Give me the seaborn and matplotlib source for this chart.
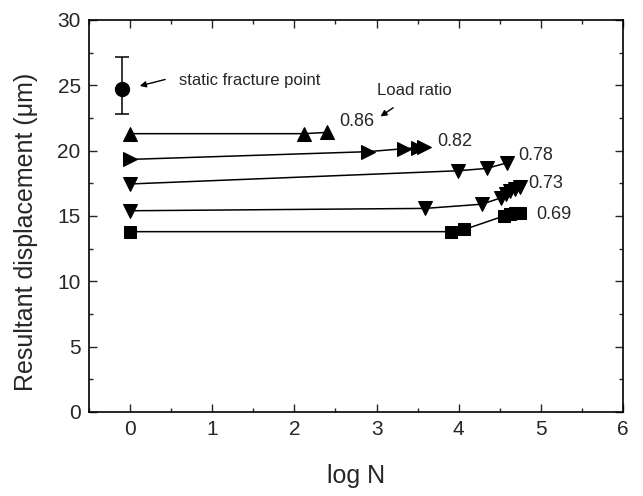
import numpy as np
import pandas as pd
import matplotlib
matplotlib.use("Agg")
import matplotlib.pyplot as plt
import seaborn as sns
from matplotlib.ticker import MultipleLocator

sns.set_style("ticks")
plt.rcParams["font.family"] = ["Liberation Sans", "DejaVu Sans"]

# ----------------------------------------------------------
# DATOS
# ----------------------------------------------------------

logn_086 = [0.0, 2.12, 2.40]
disp_086 = [21.3, 21.3, 21.4]

logn_082 = [0.0, 2.89, 3.33, 3.50, 3.58]
disp_082 = [19.33, 19.92, 20.15, 20.22, 20.28]

logn_078 = [0.0, 3.99, 4.34, 4.59]
disp_078 = [17.45, 18.46, 18.64, 19.07]

logn_073 = [0.0, 3.59, 4.28, 4.52, 4.57, 4.62, 4.68, 4.74]
disp_073 = [15.4, 15.58, 15.9, 16.4, 16.7, 16.9, 17.05, 17.2]

logn_069 = [0.0, 3.90, 4.07, 4.55, 4.62, 4.68, 4.75]
disp_069 = [13.8, 13.8, 13.97, 15.0, 15.15, 15.2, 15.25]

ratios = ["0.86", "0.82", "0.78", "0.73", "0.69"]
markers = ["^", ">", "v", "v", "s"]

static_x = -0.10
static_y = 24.7
static_err_lo = 1.9
static_err_hi = 2.5

series = [
    (logn_086, disp_086),
    (logn_082, disp_082),
    (logn_078, disp_078),
    (logn_073, disp_073),
    (logn_069, disp_069),
]

# posicion de las etiquetas de carga
label_pos = [(2.55, 22.2), (3.74, 20.7), (4.73, 19.6), (4.85, 17.5), (4.94, 15.1)]

# ----------------------------------------------------------
# FIGURA
# ----------------------------------------------------------

fig = plt.figure(figsize=(6.43, 4.96), dpi=100)
ax = fig.add_axes([0.1384, 0.1694, 0.8306, 0.7903])

for (x, y), r, m in zip(series, ratios, markers):
    df = pd.DataFrame({"logN": x, "disp": y})
    sns.lineplot(
        data=df, x="logN", y="disp", ax=ax,
        color="black", linewidth=1.1,
        marker=m, markersize=10.5 if m != "s" else 9,
        markeredgecolor="black", markerfacecolor="black",
        sort=False, estimator=None
    )

for (tx, ty), r in zip(label_pos, ratios):
    ax.text(tx, ty, r, fontsize=13, va="center", ha="left")

# punto de fractura estatica
ax.errorbar(
    static_x, static_y,
    yerr=[[static_err_lo], [static_err_hi]],
    fmt="o", color="black", markersize=10,
    capsize=4.7, elinewidth=1.1, capthick=1.1
)

ax.annotate(
    "", xy=(0.085, 24.9), xytext=(0.46, 25.5),
    arrowprops=dict(arrowstyle="-|>", color="black", lw=1.0,
                    mutation_scale=9)
)
ax.text(0.60, 25.4, "static fracture point", fontsize=12,
        va="center", ha="left")

ax.annotate(
    "", xy=(3.02, 22.5), xytext=(3.23, 23.4),
    arrowprops=dict(arrowstyle="-|>", color="black", lw=1.0,
                    mutation_scale=9)
)
ax.text(3.01, 24.6, "Load ratio", fontsize=12, va="center", ha="left")

# ----------------------------------------------------------
# EJES
# ----------------------------------------------------------

ax.set_xlim(-0.5, 6)
ax.set_ylim(0, 30)
ax.xaxis.set_major_locator(MultipleLocator(1))
ax.xaxis.set_minor_locator(MultipleLocator(0.5))
ax.yaxis.set_major_locator(MultipleLocator(5))
ax.yaxis.set_minor_locator(MultipleLocator(2.5))

ax.tick_params(which="both", direction="in", top=True, right=True,
               labelsize=15, width=1.0, pad=6)
ax.tick_params(which="major", length=6)
ax.tick_params(which="minor", length=3)

for s in ax.spines.values():
    s.set_visible(True)
    s.set_linewidth(1.2)
    s.set_color("black")

ax.set_xlabel("log N", fontsize=18, labelpad=18)
ax.set_ylabel("Resultant displacement (\u03bcm)", fontsize=18)
ax.yaxis.set_label_coords(-0.095, 0.46)

plt.savefig("out.png", dpi=100)
plt.close()
